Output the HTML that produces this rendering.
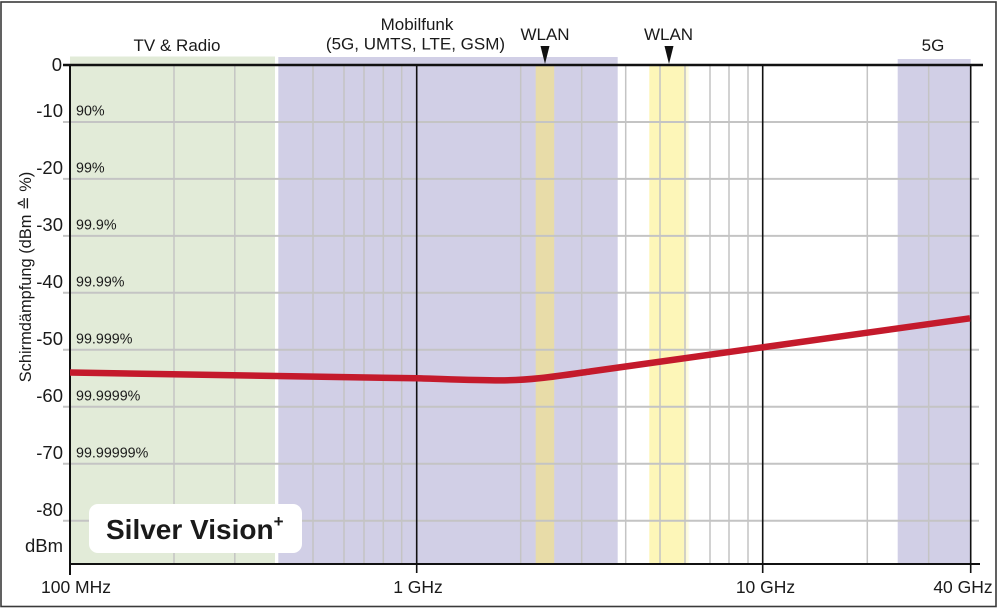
<!DOCTYPE html>
<html>
<head>
<meta charset="utf-8">
<style>
  html, body { margin:0; padding:0; background:#fff; }
  body { width:1000px; height:608px; overflow:hidden; }
  svg { display:block; }
  text { font-family: "Liberation Sans", "DejaVu Sans", sans-serif; fill:#1a1a1a; }
</style>
</head>
<body>
<svg width="1000" height="608" viewBox="0 0 1000 608" xmlns="http://www.w3.org/2000/svg">
  <defs>
    <linearGradient id="yfade" x1="0" x2="1" y1="0" y2="0">
      <stop offset="0" stop-color="#fdf6b8"/>
      <stop offset="0.85" stop-color="#fdf6b8"/>
      <stop offset="1" stop-color="#fdf6b8" stop-opacity="0.2"/>
    </linearGradient>
  </defs>
  <rect x="0" y="0" width="1000" height="608" fill="#fff"/>
  <!-- outer border -->
  <rect x="1" y="2" width="995" height="604.5" fill="none" stroke="#3a3a3a" stroke-width="1.6"/>

  <!-- bands -->
  <rect x="70" y="56.5" width="205" height="507.5" fill="#e2ebd8"/>
  <rect x="278.3" y="57" width="339.4" height="507" fill="#d1cfe6"/>
  <rect x="897.7" y="59" width="73" height="505" fill="#d1cfe6"/>
  <rect x="535.7" y="65" width="18.5" height="499" fill="#e8dca8"/>
  <rect x="649.3" y="65" width="40" height="499" fill="url(#yfade)"/>

  <!-- horizontal gridlines -->
  <g stroke="#c4c4c4" stroke-width="2">
    <line x1="63" y1="122" x2="979" y2="122"/>
    <line x1="63" y1="178.9" x2="979" y2="178.9"/>
    <line x1="63" y1="235.9" x2="979" y2="235.9"/>
    <line x1="63" y1="292.8" x2="979" y2="292.8"/>
    <line x1="63" y1="349.8" x2="979" y2="349.8"/>
    <line x1="63" y1="406.8" x2="979" y2="406.8"/>
    <line x1="63" y1="463.7" x2="979" y2="463.7"/>
    <line x1="63" y1="520.7" x2="979" y2="520.7"/>
  </g>

  <!-- vertical minor gridlines -->
  <g stroke="#c4c4c4" stroke-width="1.5">
    <line x1="174" y1="65" x2="174" y2="564"/>
    <line x1="234.8" y1="65" x2="234.8" y2="564"/>
    <line x1="313" y1="65" x2="313" y2="564"/>
    <line x1="344" y1="65" x2="344" y2="564"/>
    <line x1="364" y1="65" x2="364" y2="564"/>
    <line x1="383.3" y1="65" x2="383.3" y2="564"/>
    <line x1="401.7" y1="65" x2="401.7" y2="564"/>
    <line x1="520.7" y1="65" x2="520.7" y2="564"/>
    <line x1="581.7" y1="65" x2="581.7" y2="564"/>
    <line x1="625.7" y1="65" x2="625.7" y2="564"/>
    <line x1="660" y1="65" x2="660" y2="564"/>
    <line x1="685" y1="65" x2="685" y2="564"/>
    <line x1="710" y1="65" x2="710" y2="564"/>
    <line x1="729" y1="65" x2="729" y2="564"/>
    <line x1="748" y1="65" x2="748" y2="564"/>
    <line x1="867.3" y1="65" x2="867.3" y2="564"/>
    <line x1="928.7" y1="65" x2="928.7" y2="564"/>
  </g>

  <!-- decade lines -->
  <g stroke="#111" stroke-width="1.6">
    <line x1="416.7" y1="65" x2="416.7" y2="573"/>
    <line x1="762.7" y1="65" x2="762.7" y2="573"/>
    <line x1="970.7" y1="65" x2="970.7" y2="573"/>
  </g>

  <!-- axes -->
  <line x1="63" y1="65" x2="983" y2="65" stroke="#111" stroke-width="2.6"/>
  <line x1="70" y1="564" x2="980" y2="564" stroke="#111" stroke-width="2"/>
  <line x1="70" y1="64" x2="70" y2="575" stroke="#111" stroke-width="2"/>

  <!-- curve -->
  <path d="M70,372.5 C200,373.6 330,376.3 416.7,378.3 C445,379.1 475,380.4 500,380.4 C530,380.4 555,376.5 590,371.5 C640,364.4 780,345 970,318.3"
        fill="none" stroke="#c41a2c" stroke-width="6.5"/>

  <!-- top labels -->
  <text x="177" y="51" font-size="17" text-anchor="middle">TV &amp; Radio</text>
  <text x="417" y="30" font-size="17" text-anchor="middle">Mobilfunk</text>
  <text x="415.5" y="49.5" font-size="17" text-anchor="middle">(5G, UMTS, LTE, GSM)</text>
  <text x="545" y="40" font-size="17" text-anchor="middle">WLAN</text>
  <text x="668.5" y="40" font-size="17" text-anchor="middle">WLAN</text>
  <text x="933" y="51" font-size="17" text-anchor="middle">5G</text>
  <polygon points="540.5,46 549.5,46 545,64" fill="#111"/>
  <polygon points="664.5,46 673.5,46 669,64" fill="#111"/>

  <!-- y tick labels -->
  <g font-size="18.5" text-anchor="end">
    <text x="62" y="71">0</text>
    <text x="63" y="117">-10</text>
    <text x="63" y="174">-20</text>
    <text x="63" y="231">-30</text>
    <text x="63" y="288">-40</text>
    <text x="63" y="345">-50</text>
    <text x="63" y="402">-60</text>
    <text x="63" y="459">-70</text>
    <text x="63" y="516">-80</text>
    <text x="63" y="552">dBm</text>
  </g>

  <!-- percent labels -->
  <g font-size="14.3">
    <text x="76" y="115.5">90%</text>
    <text x="76" y="172.5">99%</text>
    <text x="76" y="229.5">99.9%</text>
    <text x="76" y="286.5">99.99%</text>
    <text x="76" y="343.5">99.999%</text>
    <text x="76" y="400.5">99.9999%</text>
    <text x="76" y="457.5">99.99999%</text>
  </g>

  <!-- y axis title -->
  <text x="31" y="277" font-size="16.4" text-anchor="middle" transform="rotate(-90 31 277)">Schirmdämpfung (dBm ≙ %)</text>

  <!-- x labels -->
  <g font-size="17.5">
    <text x="41" y="593">100 MHz</text>
    <text x="418" y="593" text-anchor="middle">1 GHz</text>
    <text x="765.5" y="593" text-anchor="middle">10 GHz</text>
    <text x="963" y="593" text-anchor="middle">40 GHz</text>
  </g>

  <!-- product label -->
  <rect x="89" y="504" width="213" height="49" rx="9" ry="9" fill="#fff"/>
  <text x="106" y="539" font-size="28" font-weight="bold" fill="#111">Silver Vision<tspan font-size="17" dy="-12">+</tspan></text>
</svg>
</body>
</html>
